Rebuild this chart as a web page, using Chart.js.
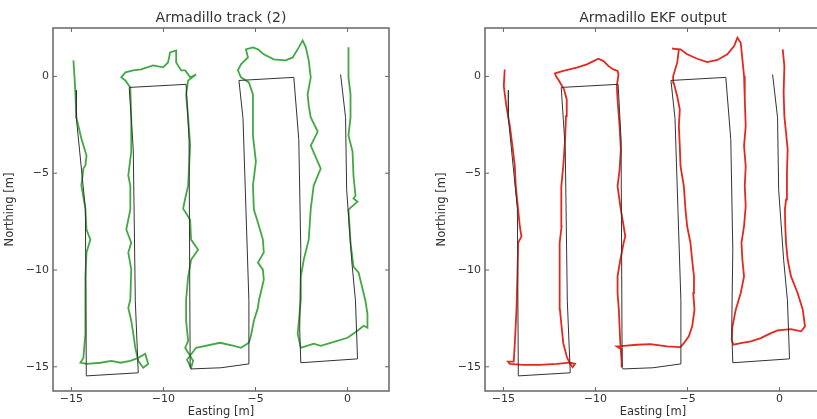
<html>
<head><title>Armadillo tracks</title>
<style>
body { margin: 0; width: 817px; height: 419px; overflow: hidden; background: white; position: relative; }
.chartBox { position: absolute; top: 0; width: 400px; height: 419px; }
</style>
</head>
<body>
<div class="chartBox" style="left:0px"><canvas id="trackChart"></canvas></div>
<div class="chartBox" style="left:432px"><canvas id="ekfChart"></canvas></div>
<script src="https://cdn.jsdelivr.net/npm/chart.js@4.4.0/dist/chart.umd.min.js"></script>
<script>
// reference lawnmower path (black), same in both plots
const refEast  = [-14.73, -14.73, -14.24, -14.19, -11.37, -11.53, -11.64, -11.86, -8.77, -8.61, -8.55, -8.50, -6.88, -5.36, -5.36,
  -5.52, -5.68, -5.90, -2.92, -2.65, -2.54, -2.60, -2.54, 0.54, 0.43, 0.22, -0.05, -0.11, -0.38];
const refNorth = [-0.72, -2.17, -6.83, -15.47, -15.31, -11.59, -3.78, -0.57, -0.41, -3.26, -15.05, -15.11, -15.05, -14.85, -11.59,
  -6.88, -2.17, -0.21, -0.05, -3.26, -8.95, -13.09, -14.79, -14.59, -11.59, -9.47, -5.85, -2.12, 0.10];

// Armadillo track (2), green
const trackEast = [-14.89, -14.83, -14.78, -14.73, -14.46, -14.18, -14.24, -14.35, -14.46, -14.24,
  -14.18, -13.97, -14.18, -14.24, -14.24, -14.24, -14.35, -14.51, -14.18, -13.43,
  -12.83, -12.34, -11.80, -11.37, -10.99, -10.83, -11.10, -11.37, -11.53, -11.64,
  -11.75, -11.91, -11.80, -11.75, -11.91, -11.75, -12.02, -11.80, -11.80, -11.91,
  -11.75, -11.75, -11.80, -12.07, -12.29, -12.07, -11.64, -11.21, -10.56, -10.02,
  -9.75, -9.64, -9.31, -9.31, -9.04, -8.82, -8.55, -8.23, -8.66, -8.77,
  -8.66, -8.55, -8.66, -8.82, -8.93, -8.55, -8.50, -8.12, -8.50, -8.66,
  -8.77, -8.77, -8.66, -8.82, -8.39, -8.50, -8.72, -8.23, -6.93, -6.17,
  -5.79, -5.36, -5.25, -5.09, -4.87, -4.82, -4.55, -4.60, -4.87, -4.55,
  -4.60, -4.87, -5.09, -5.14, -4.98, -5.14, -5.14, -5.14, -5.36, -5.79,
  -5.96, -5.79, -5.41, -5.52, -5.14, -4.87, -4.55, -4.01, -3.36, -2.98,
  -2.65, -2.44, -2.27, -2.11, -2.00, -2.17, -2.11, -2.00, -1.62, -2.00,
  -1.46, -1.84, -2.00, -2.11, -2.38, -2.54, -2.54, -2.71, -2.54, -1.84,
  -1.46, -0.92, 0.00, 0.54, 0.87, 1.08, 1.08, 0.97, 0.60, 0.32,
  0.16, 0.05, 0.54, 0.32, 0.43, 0.32, 0.27, 0.05, 0.16, 0.16,
  0.05, 0.05];
const trackNorth = [0.83, -0.05, -0.93, -2.12, -3.21, -4.09, -4.60, -4.76, -5.64, -6.83,
  -7.91, -8.43, -9.10, -10.35, -11.54, -13.29, -14.54, -14.79, -14.85, -14.79,
  -14.69, -14.79, -14.69, -14.54, -14.33, -14.85, -15.05, -14.69, -14.02, -13.29,
  -12.62, -11.95, -11.54, -9.98, -9.10, -8.59, -7.91, -6.88, -5.64, -5.12,
  -3.88, -2.17, -0.57, -0.21, -0.05, 0.21, 0.31, 0.36, 0.57, 0.47,
  0.72, 1.24, 1.34, 0.72, 0.31, 0.31, -0.05, 0.10, -0.21, -0.93,
  -2.12, -3.57, -5.64, -6.31, -6.83, -7.40, -8.43, -8.95, -9.47, -10.35,
  -11.54, -12.62, -13.66, -14.02, -14.69, -15.05, -14.64, -14.02, -13.76, -13.92,
  -14.02, -13.76, -13.40, -12.62, -11.95, -11.59, -10.50, -9.98, -9.62, -9.10,
  -8.43, -7.55, -6.88, -5.64, -4.40, -3.05, -2.17, -0.93, -0.31, -0.05,
  0.31, 0.62, 0.98, 1.40, 1.50, 1.40, 1.14, 0.88, 0.83, 0.98,
  1.50, 1.86, 1.50, 0.83, -0.05, -0.93, -1.50, -2.12, -2.85, -3.57,
  -4.76, -5.64, -6.83, -8.43, -9.47, -10.35, -11.54, -13.29, -14.02, -13.81,
  -13.92, -13.76, -13.50, -13.14, -12.88, -12.98, -12.26, -11.59, -10.14, -9.83,
  -8.59, -6.88, -6.47, -6.31, -6.16, -5.12, -3.88, -3.05, -2.12, -0.93,
  -0.05, 1.50];

// Armadillo EKF output, red
const ekfEast = [-14.93, -14.98, -14.84, -14.65, -14.51, -14.38, -14.33, -14.20, -14.11, -14.02, -14.20, -14.24, -14.29, -14.38, -14.44,
  -14.75, -14.65, -13.93, -13.02, -12.11, -11.38, -11.11, -11.24, -11.42,
  -11.56, -11.75, -11.84, -11.93, -11.96, -11.93, -11.84, -11.87, -11.84, -11.75, -11.65, -11.60, -11.56, -11.71, -12.02, -12.15,
  -12.20, -11.75, -11.02, -10.47, -10.11, -9.84, -9.56, -9.29, -9.02, -8.80, -8.75,
  -8.84, -8.80, -8.69, -8.62, -8.69, -8.80, -8.65, -8.47, -8.38, -8.47, -8.65, -8.80, -8.80, -8.73, -8.69, -8.65, -8.56, -8.58,
  -8.84, -8.47, -7.75, -7.02, -6.11, -5.38, -5.20,
  -4.93, -4.75, -4.62, -4.69, -4.65, -4.75, -4.84, -5.02, -5.11, -5.20, -5.38, -5.42, -5.47, -5.42, -5.56, -5.75, -5.78,
  -5.56, -5.47, -5.84, -5.38, -5.02, -4.47, -3.93, -3.38, -2.84, -2.47, -2.29, -2.11,
  -2.02, -1.93, -1.89, -1.84, -1.93, -1.84, -1.89, -1.84, -1.93, -2.07, -2.02, -1.93, -2.11, -2.38, -2.56, -2.60,
  -2.51, -2.11, -1.56, -1.02, -0.47, -0.11, 0.62, 1.17,
  1.38, 1.26, 0.98, 0.62, 0.44, 0.35, 0.31, 0.29, 0.35, 0.40, 0.44, 0.35, 0.26, 0.22, 0.26, 0.17];
const ekfNorth = [0.36, -0.50, -1.53, -2.57, -3.60, -4.64, -5.67, -6.88, -7.74, -8.26, -8.60, -10.33, -12.05, -13.78, -14.73,
  -14.73, -14.85, -14.90, -14.90, -14.85, -14.78, -14.85, -15.02, -14.78,
  -14.47, -13.78, -12.92, -12.05, -10.33, -8.60, -7.74, -6.88, -5.67, -4.64, -3.26, -2.05, -1.19, -0.67, -0.16, 0.02,
  0.16, 0.28, 0.45, 0.62, 0.79, 0.91, 0.79, 0.53, 0.36, 0.28, 0.10,
  -0.50, -1.19, -2.57, -3.78, -4.81, -5.67, -6.71, -7.74, -8.26, -8.60, -9.47, -10.33, -11.19, -12.05, -12.92, -13.78, -14.98, -14.10,
  -13.95, -13.92, -13.86, -13.83, -13.95, -13.98, -13.78,
  -13.43, -12.92, -12.05, -11.19, -10.33, -9.47, -8.60, -7.74, -6.88, -5.67, -4.64, -3.60, -2.57, -1.71, -1.02, -0.33, 0.02,
  0.71, 1.40, 1.43, 1.40, 1.14, 0.91, 0.74, 0.85, 1.14, 1.57, 2.00, 1.74,
  0.88, 0.02, -1.19, -2.57, -3.60, -4.64, -5.67, -6.71, -7.74, -8.60, -9.47, -10.33, -11.19, -12.05, -12.92, -13.60,
  -13.86, -13.78, -13.69, -13.52, -13.26, -13.12, -13.05, -13.17,
  -12.92, -12.05, -11.19, -10.33, -9.47, -8.60, -7.74, -6.88, -6.36, -4.98, -3.78, -2.91, -2.05, -0.84, 0.53, 1.40];

const xTicks = [-15, -10, -5, 0];
const yTicks = [-15, -10, -5, 0];
const xRange = [-16, 2.25];
const yRange = [-16.25, 2.5];

function toPoints(east, north) {
    const pts = [];
    for (let i = 0; i < east.length; i++) {
        pts.push({x: east[i], y: north[i]});
    }
    return pts;
}

function minusLabel(v) {
    return v < 0 ? '\u2212' + Math.abs(v) : '' + v;
}

// matplotlib style box with inward ticks on all four sides
const framePlugin = {
    id: 'frame',
    afterDatasetsDraw(chart) {
        const {ctx, chartArea: a, scales: {x, y}} = chart;
        ctx.save();
        ctx.strokeStyle = '#666';
        ctx.lineWidth = 1.5;
        ctx.strokeRect(a.left, a.top, a.right - a.left, a.bottom - a.top);
        ctx.lineWidth = 1;
        ctx.beginPath();
        xTicks.forEach(v => {
            const px = x.getPixelForValue(v);
            ctx.moveTo(px, a.bottom); ctx.lineTo(px, a.bottom - 4);
            ctx.moveTo(px, a.top); ctx.lineTo(px, a.top + 4);
        });
        yTicks.forEach(v => {
            const py = y.getPixelForValue(v);
            ctx.moveTo(a.left, py); ctx.lineTo(a.left + 4, py);
            ctx.moveTo(a.right, py); ctx.lineTo(a.right - 4, py);
        });
        ctx.stroke();
        ctx.restore();
    }
};

function makeConfig(title, east, north, color) {
    return {
        type: 'scatter',
        data: {
            datasets: [{
                data: toPoints(refEast, refNorth),
                showLine: true,
                borderColor: '#333',
                borderWidth: 1,
                pointRadius: 0,
                tension: 0
            }, {
                data: toPoints(east, north),
                showLine: true,
                borderColor: color,
                borderWidth: 1.8,
                pointRadius: 0,
                tension: 0
            }]
        },
        options: {
            responsive: true,
            maintainAspectRatio: false,
            animation: false,
            layout: { padding: { left: 0, right: 11, top: 0, bottom: 0 } },
            plugins: {
                legend: { display: false },
                tooltip: { enabled: false },
                title: {
                    display: true,
                    text: title,
                    fullSize: false,
                    color: '#333',
                    font: { family: 'DejaVu Sans', size: 14, weight: 'normal' },
                    padding: { top: 9.5, bottom: 1.7 }
                }
            },
            scales: {
                x: {
                    type: 'linear',
                    min: xRange[0],
                    max: xRange[1],
                    afterBuildTicks: (scale) => { scale.ticks = xTicks.map(v => ({value: v})); },
                    afterFit: (scale) => { scale.height = 28; },
                    grid: { display: false, drawTicks: false },
                    border: { display: false },
                    ticks: {
                        padding: 1.5,
                        color: '#333',
                        font: { family: 'DejaVu Sans', size: 11 },
                        callback: (v) => minusLabel(v)
                    },
                    title: {
                        display: true,
                        text: 'Easting [m]',
                        color: '#333',
                        font: { family: 'DejaVu Sans', size: 11.5 },
                        padding: { top: 0, bottom: 0 }
                    }
                },
                y: {
                    type: 'linear',
                    min: yRange[0],
                    max: yRange[1],
                    afterBuildTicks: (scale) => { scale.ticks = yTicks.map(v => ({value: v})); },
                    afterFit: (scale) => { scale.width = 53; },
                    grid: { display: false, drawTicks: false },
                    border: { display: false },
                    ticks: {
                        padding: 4,
                        color: '#333',
                        font: { family: 'DejaVu Sans', size: 11 },
                        callback: (v) => minusLabel(v)
                    },
                    title: {
                        display: true,
                        text: 'Northing [m]',
                        color: '#333',
                        font: { family: 'DejaVu Sans', size: 11.5 },
                        padding: { top: 3, bottom: 0 }
                    }
                }
            }
        },
        plugins: [framePlugin]
    };
}

new Chart(document.getElementById('trackChart'), makeConfig('Armadillo track (2)', trackEast, trackNorth, 'rgba(45,160,45,0.9)'));
new Chart(document.getElementById('ekfChart'), makeConfig('Armadillo EKF output', ekfEast, ekfNorth, 'rgb(228,40,30)'));
</script>
</body></html>
